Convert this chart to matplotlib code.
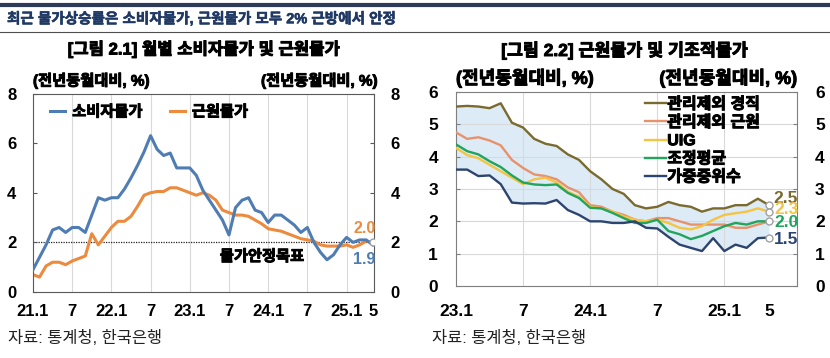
import numpy as np
import matplotlib.pyplot as plt
import matplotlib.patheffects as pe
from matplotlib.lines import Line2D

plt.rcParams['font.family'] = ['Liberation Sans', 'Noto Sans CJK KR', 'DejaVu Sans']
plt.rcParams['font.weight'] = 'bold'

# ---- 그림 2.1 : 21.1 ~ 25.5 월별 (전년동월대비, %)
cpi = [0.9, 1.4, 1.9, 2.5, 2.6, 2.4, 2.6, 2.6, 2.4, 3.1, 3.8, 3.7,
       3.8, 3.8, 4.15, 4.6, 5.1, 5.65, 6.3, 5.75, 5.5, 5.6, 5.0, 5.0,
       5.0, 4.7, 4.1, 3.7, 3.3, 2.9, 2.3, 3.4, 3.7, 3.8, 3.3, 3.2,
       2.8, 3.1, 3.1, 2.9, 2.7, 2.4, 2.6, 2.0, 1.6, 1.3, 1.5, 1.9,
       2.2, 2.0, 2.1, 2.1, 1.9]
core = [0.7, 0.6, 1.05, 1.2, 1.2, 1.1, 1.25, 1.35, 1.45, 2.35, 1.9, 2.25,
        2.6, 2.85, 2.85, 3.05, 3.45, 3.9, 4.0, 4.05, 4.05, 4.2, 4.2, 4.1,
        4.0, 3.9, 4.0, 3.9, 3.7, 3.3, 3.2, 3.1, 3.1, 3.05, 2.9, 2.75,
        2.55, 2.5, 2.45, 2.35, 2.25, 2.15, 2.1, 2.05, 1.9, 1.85, 1.85, 1.85,
        1.9, 1.8, 1.9, 2.05, 2.0]
xt1 = [0, 6, 12, 18, 24, 30, 36, 42, 48, 52]
xl1 = ['21.1', '7', '22.1', '7', '23.1', '7', '24.1', '7', '25.1', '5']

# ---- 그림 2.2 : 23.1 ~ 25.5
gyeongjik = [5.55, 5.57, 5.55, 5.5, 5.65, 5.05, 4.9, 4.55, 4.4, 4.33, 4.07, 3.9, 3.55, 3.3, 3.0,
             2.85, 2.5, 2.4, 2.45, 2.6, 2.5, 2.45, 2.3, 2.4, 2.4, 2.5, 2.5, 2.7, 2.5]
geunwon = [4.75, 4.55, 4.6, 4.5, 4.35, 3.9, 3.65, 3.45, 3.4, 3.3, 3.05, 2.9, 2.5, 2.45, 2.3,
           2.2, 2.05, 2.0, 2.1, 2.1, 2.0, 1.9, 1.9, 1.9, 1.9, 1.8, 1.8, 1.9, 2.0]
uig = [4.27, 4.05, 3.95, 3.75, 3.55, 3.35, 3.15, 3.3, 3.35, 3.2, 2.92, 2.76, 2.45, 2.4, 2.3,
       2.15, 2.05, 2.0, 2.05, 1.95, 1.8, 1.75, 1.85, 2.05, 2.2, 2.25, 2.3, 2.4, 2.3]
trimmed = [4.38, 4.17, 4.07, 3.86, 3.68, 3.42, 3.2, 3.14, 3.12, 3.14, 2.88, 2.72, 2.42, 2.4, 2.26,
           2.1, 1.95, 1.95, 2.05, 1.7, 1.6, 1.45, 1.55, 1.7, 1.85, 1.95, 1.9, 2.0, 2.0]
median = [3.6, 3.6, 3.4, 3.42, 3.15, 2.58, 2.55, 2.56, 2.55, 2.66, 2.35, 2.2, 2.0, 2.0, 1.95,
          1.95, 2.0, 1.8, 1.78, 1.52, 1.28, 1.18, 1.08, 1.48, 1.08, 1.28, 1.18, 1.48, 1.5]
xt2 = [0, 6, 12, 18, 24, 28]
xl2 = ['23.1', '7', '24.1', '7', '25.1', '5']


def heavy(color='black', w=0.7):
    return [pe.withStroke(linewidth=w, foreground=color)]


fig = plt.figure(figsize=(8.3, 3.58), dpi=100)

# 상단 제목줄
fig.add_artist(Line2D([0, 1], [1 - 5/358] * 2, transform=fig.transFigure, color='#2e3b58', lw=3))
fig.add_artist(Line2D([0, 1], [1 - 32/358] * 2, transform=fig.transFigure, color='#505050', lw=0.8))
fig.text(7/830, 1 - 19/358, '최근 물가상승률은 소비자물가, 근원물가 모두 2% 근방에서 안정',
         fontsize=10.5, color='#1f3864', va='center', path_effects=heavy('#1f3864', 0.4))

fig.text(204/830, 1 - 49/358, '[그림 2.1] 월별 소비자물가 및 근원물가', fontsize=12,
         ha='center', va='center', path_effects=heavy())
fig.text(625/830, 1 - 50/358, '[그림 2.2] 근원물가 및 기조적물가', fontsize=12.5,
         ha='center', va='center', path_effects=heavy())

# ---------------- 왼쪽
ax1 = fig.add_axes([33/830, 1 - 292/358, 341/830, 198.5/358])
x1 = np.arange(len(cpi))
for m in range(6, 49, 6):
    ax1.axvline(m, color='#d9d9d9', lw=0.8, zorder=0)
ax1.axhline(2, color='#222222', ls=(0, (1, 1)), lw=0.9, zorder=1)
ax1.plot(x1, cpi, color='#4f7db3', lw=2.2, label='소비자물가', zorder=3)
ax1.plot(x1, core, color='#ec8a3d', lw=2.2, label='근원물가', zorder=2)
ax1.plot(x1[-1], core[-1], 'o', mfc='white', mec='#a0a0a0', ms=5, zorder=4)
ax1.set_xlim(0, 52.2)
ax1.set_ylim(0, 8)
ax1.set_yticks(range(0, 9, 2))
ax1.set_xticks(xt1)
ax1.set_xticklabels(xl1)
ax1.tick_params(axis='x', length=0, labelsize=12, pad=9)
ax1.tick_params(axis='y', direction='in', length=3, labelsize=12, right=True, labelright=True,
                color='#595959', pad=12)
for sp in ax1.spines.values():
    sp.set_color('#595959')
leg1 = ax1.legend(loc='center left', bbox_to_anchor=(0.05, 0.905), ncol=2, frameon=False,
                  handlelength=1.0, handletextpad=0.45, columnspacing=1.8, borderpad=0,
                  borderaxespad=0, prop={'size': 11, 'weight': 'bold'})
for t in leg1.get_texts():
    t.set_path_effects(heavy())
ax1.text(28.6, 1.41, '물가안정목표', fontsize=11, va='center', path_effects=heavy())
ax1.text(49, 2.54, '2.0', fontsize=11.5, color='#ec8a3d', va='center')
ax1.text(49, 1.29, '1.9', fontsize=11.5, color='#4f7db3', va='center')
ax1.text(0, 1.065, '(전년동월대비, %)', transform=ax1.transAxes, fontsize=11, va='center',
         path_effects=heavy())
ax1.text(1.01, 1.065, '(전년동월대비, %)', transform=ax1.transAxes, fontsize=11, va='center',
         ha='right', path_effects=heavy())

# ---------------- 오른쪽
ax2 = fig.add_axes([456/830, 1 - 286/358, 341/830, 194/358])
x2 = np.arange(len(gyeongjik))
allv = np.array([gyeongjik, geunwon, uig, trimmed, median])
ax2.fill_between(x2, allv.max(axis=0), allv.min(axis=0), color='#ddebf7', lw=0, zorder=0.5)
for m in [6, 12, 18, 24]:
    ax2.axvline(m, color='#d9d9d9', lw=0.8, zorder=1)
for v in range(1, 6):
    ax2.axhline(v, color='#d9d9d9', lw=0.8, zorder=1)
series = [(gyeongjik, '#7a6a2e', '관리제외 경직'),
          (geunwon, '#e8926c', '관리제외 근원'),
          (uig, '#f4c443', 'UIG'),
          (trimmed, '#21a45c', '조정평균'),
          (median, '#2c4470', '가중중위수')]
for vals, col, name in series:
    ax2.plot(x2, vals, color=col, lw=1.7, label=name, zorder=3)
for vals, col, name in series:
    if name != '관리제외 근원':
        ax2.plot(x2[-1], vals[-1], 'o', mfc='white', mec='#a0a0a0', ms=5, zorder=4)
ax2.text(28.4, 2.72, '2.5', color='#7a6a2e', fontsize=12.5, va='center')
ax2.text(28.5, 2.38, '2.3', color='#f4c443', fontsize=12.5, va='center')
ax2.text(28.5, 1.95, '2.0', color='#21a45c', fontsize=12.5, va='center')
ax2.text(28.4, 1.45, '1.5', color='#2c4470', fontsize=12.5, va='center')
ax2.set_xlim(0, 30.5)
ax2.set_ylim(0, 6)
ax2.set_yticks(range(0, 7))
ax2.set_xticks(xt2)
ax2.set_xticklabels(xl2)
ax2.tick_params(axis='x', length=0, labelsize=12.5, pad=13)
ax2.tick_params(axis='y', direction='in', length=3, labelsize=12.5, right=True, labelright=True,
                pad=13, color='#7f7f7f')
for sp in ax2.spines.values():
    sp.set_color('#7f7f7f')
leg2 = ax2.legend(loc='upper left', bbox_to_anchor=(0.554, 0.975), frameon=False,
                  handlelength=1.3, handletextpad=0.1, labelspacing=0.2, borderpad=0,
                  borderaxespad=0, prop={'size': 11.5, 'weight': 'bold'})
for t in leg2.get_texts():
    t.set_path_effects(heavy())
ax2.text(0, 1.07, '(전년동월대비, %)', transform=ax2.transAxes, fontsize=13, va='center',
         path_effects=heavy())
ax2.text(1.0, 1.07, '(전년동월대비, %)', transform=ax2.transAxes, fontsize=13, va='center',
         ha='right', path_effects=heavy())

fig.text(8/830, 1 - 338/358, '자료: 통계청, 한국은행', fontsize=11.8, fontweight='normal',
         va='center', color='#222222')
fig.text(432/830, 1 - 338/358, '자료: 통계청, 한국은행', fontsize=11.8, fontweight='normal',
         va='center', color='#222222')

fig.savefig('out.png', dpi=100)
